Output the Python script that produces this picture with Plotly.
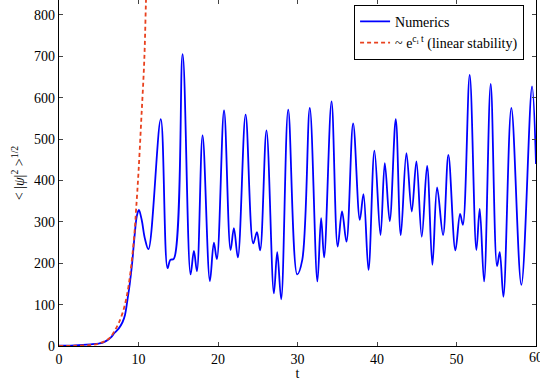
import plotly.graph_objects as go

# Numerics (blue)
t_num = [0, 1, 2, 3, 4, 5, 5.5, 6, 6.5, 7, 7.5, 8, 8.3, 8.6, 8.9, 9.2, 9.5, 9.8, 10.05, 10.4, 10.8, 11.25,
         12.8, 13.65, 14.0, 14.45, 15.55, 16.55, 16.97, 17.35, 18.06, 18.98, 19.48, 19.86, 20.76,
         21.58, 22.0, 22.5, 23.47, 24.43, 24.9, 25.3, 26.1, 27.03, 27.45, 27.95, 28.83, 29.96,
         30.6, 31.55, 32.5, 32.97, 33.35, 34.28, 35.05, 35.6, 36.16, 37.0, 37.84, 38.3, 38.93,
         39.68, 40.44, 40.98, 41.6, 42.36, 42.99, 43.7, 44.37, 44.96, 45.63, 46.3, 46.97, 47.56,
         48.31, 48.98, 49.86, 50.45, 50.8, 51.66, 52.5, 52.92, 53.47, 54.3, 55.1, 55.44, 55.9,
         56.9, 58.16, 59.5, 60]
v_num = [1, 1, 1.5, 2.5, 4, 6, 8, 13, 20, 32, 42, 58, 75, 110, 150, 200, 265, 315, 329, 305, 260, 234,
         548, 188, 208, 211, 705, 173, 230, 181, 509, 157, 250, 210, 569,
         232, 285, 214, 559, 248, 275, 231, 521, 127, 227, 113, 571, 173,
         208, 575, 156, 309, 214, 591, 240, 325, 252, 538, 305, 367, 184,
         472, 268, 442, 302, 548, 268, 466, 325, 446, 264, 435, 196, 383,
         268, 462, 231, 319, 293, 655, 232, 331, 156, 633, 193, 227, 119,
         575, 148, 627, 440]

# Linear stability (red dashed)
t_lin = [0, 2, 4, 5, 6, 6.5, 7, 7.5, 8, 8.5, 9, 9.5, 9.7, 10, 10.35, 10.73, 10.95, 11.15]
v_lin = [0.1, 0.6, 2.5, 6, 14, 22, 37, 55, 80, 118, 180, 275, 330, 420, 547, 692, 840, 960]

x_ticks = [0, 10, 20, 30, 40, 50]
x_tick_last = 60
y_ticks = [0, 100, 200, 300, 400, 500, 600, 700, 800]

FONT = "Liberation Serif"

fig = go.Figure()
fig.add_trace(go.Scatter(x=t_num, y=v_num, mode="lines", name="Numerics",
                         line=dict(color="#0000ff", width=1.8, shape="spline", smoothing=1.0)))
fig.add_trace(go.Scatter(x=t_lin, y=v_lin, mode="lines",
                         name="~ e<sup>c<sub>i</sub> t</sup> (linear stability)",
                         line=dict(color="#e8411e", width=1.8, dash="4px,3px", shape="spline")))

fig.update_layout(
    template="none",
    width=540, height=381,
    margin=dict(l=59, r=4, t=0, b=35),
    paper_bgcolor="white", plot_bgcolor="white",
    font=dict(family=FONT, size=14, color="black"),
    showlegend=True,
    legend=dict(x=0.975, y=0.986, xanchor="right", yanchor="top",
                bgcolor="white", bordercolor="black", borderwidth=1,
                font=dict(family=FONT, size=14), tracegroupgap=0,
                itemwidth=30),
    xaxis=dict(range=[0, 60], tickvals=x_ticks, ticks="inside", ticklen=4,
               showline=True, linecolor="black", linewidth=1.3, mirror=False,
               showgrid=False, zeroline=False, tickfont=dict(family=FONT, size=14),
               title=dict(text="t", standoff=0, font=dict(family=FONT, size=14))),
    xaxis2=dict(range=[0, 60], overlaying="x", matches="x", side="top", tickvals=x_ticks,
                ticks="inside", ticklen=4, showticklabels=False, showline=False,
                showgrid=False, zeroline=False),
    yaxis=dict(range=[0, 836], tickvals=y_ticks, ticks="inside", ticklen=4,
               showline=True, linecolor="black", linewidth=1.3, mirror="ticks",
               showgrid=False, zeroline=False, tickfont=dict(family=FONT, size=14),
               title=dict(text="&lt; |<i>ψ</i>|<sup>2</sup> &gt;<sup>1/2</sup>", standoff=6,
                          font=dict(family=FONT, size=14))),
)
fig.add_trace(go.Scatter(x=[None], y=[None], xaxis="x2", showlegend=False, hoverinfo="skip"))
# last x tick label (partly outside the page, as in the reference)
fig.add_annotation(x=x_tick_last, y=0, xref="x", yref="paper", text=str(x_tick_last),
                   showarrow=False, yanchor="top", yshift=-2,
                   font=dict(family=FONT, size=14, color="black"))

fig.write_html("out.html")
